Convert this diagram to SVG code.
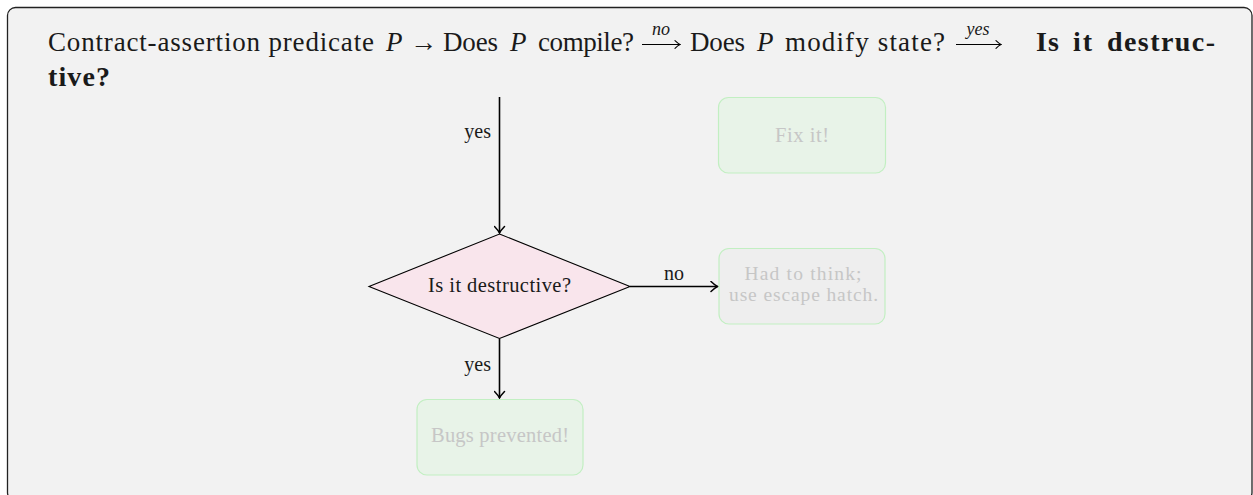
<svg xmlns="http://www.w3.org/2000/svg" width="1253" height="495" viewBox="0 0 1253 495">
<defs>
<style>
.t{font-family:'Liberation Serif','DejaVu Serif','Noto Serif',serif;fill:#1a1a1a}
.title{font-size:27px}
.bt{font-size:28px;font-weight:bold}
.it{font-style:italic}
.lbl{font-size:20px}
.nt{font-size:20.5px}
.nt2{font-size:19.5px}
.faded{fill:#c6c6c6}
.edge{stroke:#000;stroke-width:1.6;fill:none}
.thin{stroke:#000;stroke-width:1.1;fill:none}
.gbox{fill:#e8f3e8;stroke:#c2efc2;stroke-width:1.2}
.gray{fill:#eeeeee;stroke:#c2efc2;stroke-width:1.2}
</style>
<marker id="arr" viewBox="-8 -6 10 12" refX="0" refY="0" markerWidth="10" markerHeight="12" orient="auto" markerUnits="userSpaceOnUse">
<path d="M-6.5,-5 Q-2.5,-1.2 0,0 Q-2.5,1.2 -6.5,5" fill="none" stroke="#000" stroke-width="1.5" stroke-linecap="round"/>
</marker>
<marker id="arrs" viewBox="-7 -5 8 10" refX="0" refY="0" markerWidth="8" markerHeight="10" orient="auto" markerUnits="userSpaceOnUse">
<path d="M-5,-3.8 Q-2,-0.9 0,0 Q-2,0.9 -5,3.8" fill="none" stroke="#000" stroke-width="1.1" stroke-linecap="round"/>
</marker>
</defs>
<rect width="1253" height="495" fill="#ffffff"/>
<rect x="7.5" y="7.5" width="1244.5" height="493" rx="8" fill="#f2f2f2" stroke="#222" stroke-width="1.3"/>

<g id="title">
<text class="t title" x="48" y="51" textLength="326" lengthAdjust="spacing">Contract-assertion predicate</text>
<text class="t title it" x="386" y="51">P</text>
<text class="t title" x="410" y="51">→</text>
<text class="t title" x="443" y="51" textLength="55" lengthAdjust="spacing">Does</text>
<text class="t title it" x="510" y="51">P</text>
<text class="t title" x="538" y="51" textLength="96" lengthAdjust="spacing">compile?</text>
<line class="thin" x1="642" y1="44.5" x2="680" y2="44.5" marker-end="url(#arrs)"/>
<text class="t it" font-size="18" x="661" y="35" text-anchor="middle">no</text>
<text class="t title" x="690" y="51" textLength="55" lengthAdjust="spacing">Does</text>
<text class="t title it" x="757" y="51">P</text>
<text class="t title" x="785" y="51" textLength="160" lengthAdjust="spacing">modify state?</text>
<line class="thin" x1="956" y1="44.5" x2="1001" y2="44.5" marker-end="url(#arrs)"/>
<text class="t it" font-size="18" x="978" y="35" text-anchor="middle">yes</text>
<text class="t bt" x="1036" y="51" textLength="23" lengthAdjust="spacing">Is</text>
<text class="t bt" x="1073" y="51" textLength="19" lengthAdjust="spacing">it</text>
<text class="t bt" x="1107" y="51" textLength="108" lengthAdjust="spacing">destruc-</text>
<text class="t bt" x="48" y="86" textLength="62" lengthAdjust="spacing">tive?</text>
</g>

<g id="connectors">
<line class="edge" x1="499.5" y1="97" x2="499.5" y2="233" marker-end="url(#arr)"/>
<text class="t lbl" x="491" y="138" text-anchor="end">yes</text>
<line class="edge" x1="630" y1="286.5" x2="717.5" y2="286.5" marker-end="url(#arr)"/>
<text class="t lbl" x="674" y="280" text-anchor="middle">no</text>
<line class="edge" x1="499.5" y1="338.5" x2="499.5" y2="398" marker-end="url(#arr)"/>
<text class="t lbl" x="491" y="371" text-anchor="end">yes</text>
</g>

<g id="node-destructive">
<polygon points="499.5,234 630,286.5 499.5,338.5 369,286.5" fill="#f9e5ec" stroke="#000" stroke-width="1.1"/>
<text class="t nt" x="499.5" y="292" text-anchor="middle" textLength="143" lengthAdjust="spacing">Is it destructive?</text>
</g>

<g id="node-fix">
<rect class="gbox" x="718.5" y="97.5" width="167" height="75.5" rx="10"/>
<text class="t nt faded" x="802" y="141.7" text-anchor="middle" textLength="54" lengthAdjust="spacing">Fix it!</text>
</g>

<g id="node-escape">
<rect class="gray" x="719" y="248.5" width="166" height="75.5" rx="10"/>
<text class="t nt2 faded" x="803" y="280" text-anchor="middle" textLength="117" lengthAdjust="spacing">Had to think;</text>
<text class="t nt2 faded" x="803.5" y="301" text-anchor="middle" textLength="149" lengthAdjust="spacing">use escape hatch.</text>
</g>

<g id="node-bugs">
<rect class="gbox" x="417" y="399.5" width="166" height="75.5" rx="10"/>
<text class="t nt faded" x="500" y="441.7" text-anchor="middle" textLength="138" lengthAdjust="spacing">Bugs prevented!</text>
</g>
</svg>
